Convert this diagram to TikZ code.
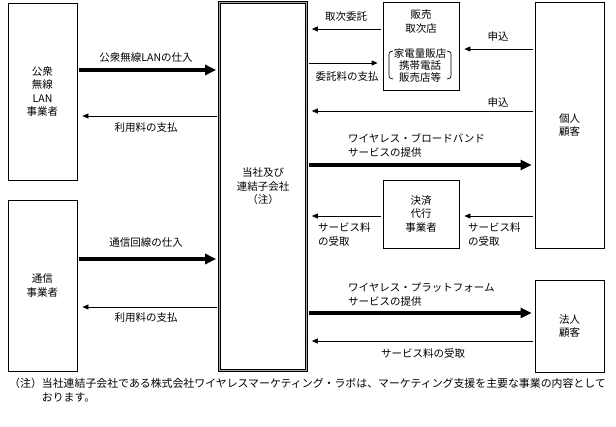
\documentclass[tikz,border=0pt]{standalone}
\usepackage{fontspec}
\newfontfamily\jpfont{Noto Sans CJK JP}
\usetikzlibrary{arrows.meta}
\tikzset{
  party/.style={draw, line width=0.8pt, inner sep=0pt, align=center,
    font=\jpfont\fontsize{10.5}{13.5}\selectfont},
  hqbox/.style={party, line width=0.7pt, double=gray!70, double distance=1.4pt},
  txt/.style={inner sep=0pt, align=left, font=\jpfont\fontsize{10.5}{14}\selectfont},
  heavy/.style={line width=3.5pt, -{Triangle[length=11pt,width=10pt]},
    shorten <=2pt, shorten >=3pt},
  light/.style={line width=0.8pt, -{Triangle[length=6pt,width=5pt]},
    shorten <=2pt, shorten >=5pt}
}
\begin{document}
\begin{tikzpicture}[x=1pt,y=-1pt]
\useasboundingbox (0,0) rectangle (616,427);

% Define coordinates
\coordinate (r1) at (0,70);
\coordinate (r2) at (0,116);
\coordinate (r3) at (0,259);
\coordinate (r4) at (0,307);
\coordinate (s1) at (0,29);
\coordinate (s2) at (0,49);
\coordinate (s3) at (0,63);
\coordinate (s4) at (0,111);
\coordinate (s5) at (0,165);
\coordinate (s6) at (0,216);
\coordinate (s7) at (0,313);
\coordinate (s8) at (0,341);

% Boxes
\node[party, minimum width=69pt, minimum height=177pt] (pub) at (42.5,91.5) {公衆\\無線\\LAN\\事業者};
\node[party, minimum width=69pt, minimum height=171pt] (tel) at (42.5,285.5) {通信\\事業者};
\node[hqbox, minimum width=87pt, minimum height=368pt] (hq) at (263,186.5) {当社及び\\連結子会社\\（注）};
\node[party, minimum width=76pt, minimum height=88pt] (agent) at (421,46) {};
\node[party, minimum width=69pt, minimum height=246pt] (indiv) at (569.5,125) {個人\\顧客};
\node[party, minimum width=76pt, minimum height=68pt] (settle) at (421,214) {決済\\代行\\事業者};
\node[party, minimum width=69pt, minimum height=92pt] (corp) at (569.5,326) {法人\\顧客};

% Text in the agent box
\node[txt, align=center, font=\jpfont\fontsize{10.5}{14.5}\selectfont] (agentname) at (421,21.5) {販売\\取次店};
\node[txt, align=center, font=\jpfont\fontsize{10.5}{12}\selectfont] (agentkind) at (420,66) {家電量販店\\携帯電話\\販売店等};
\draw[line width=0.7pt] (393,51) .. controls (389,52) .. (389,56) -- (389,73) .. controls (389,78) .. (393,79); % left bracket
\draw[line width=0.7pt] (447,51) .. controls (451,52) .. (451,56) -- (451,73) .. controls (451,78) .. (447,79); % right bracket

% Left side flows
\draw[heavy] (pub.east |- r1) -- (hq.west |- r1);
\draw[light] (hq.west |- r2) -- (pub.east |- r2);
\draw[heavy] (tel.east |- r3) -- (hq.west |- r3);
\draw[light] (hq.west |- r4) -- (tel.east |- r4);

% Right side flows
\draw[light] (agent.west |- s1) -- (hq.east |- s1); % commission
\draw[light] (hq.east |- s3) -- (agent.west |- s3); % fee paid
\draw[light] (indiv.west |- s2) -- (agent.east |- s2); % application
\draw[light] (indiv.west |- s4) -- (hq.east |- s4); % application
\draw[heavy] (hq.east |- s5) -- (indiv.west |- s5);
\draw[light] (settle.west |- s6) -- (hq.east |- s6);
\draw[light] (indiv.west |- s6) -- (settle.east |- s6);
\draw[heavy] (hq.east |- s7) -- (corp.west |- s7);
\draw[light] (corp.west |- s8) -- (hq.east |- s8);

% Add labels
\node[txt] (l1) at (146,58) {公衆無線LANの仕入};
\node[txt] (l2) at (146,128) {利用料の支払};
\node[txt] (l3) at (146,243) {通信回線の仕入};
\node[txt] (l4) at (146,318) {利用料の支払};
\node[txt] (l5) at (346,17) {取次委託};
\node[txt] (l6) at (347,77) {委託料の支払};
\node[txt] (l7) at (498,37) {申込};
\node[txt] (l8) at (498,103) {申込};
\node[txt, anchor=west] (l9) at (348,145.5) {ワイヤレス・ブロードバンド\\サービスの提供};
\node[txt, anchor=west] (l10) at (318,234.5) {サービス料\\の受取};
\node[txt, anchor=west] (l11) at (468,234.5) {サービス料\\の受取};
\node[txt, anchor=west] (l12) at (348,295) {ワイヤレス・プラットフォーム\\サービスの提供};
\node[txt] (l13) at (423,353) {サービス料の受取};

% Note
\node[txt, anchor=west, font=\jpfont\fontsize{10.9}{14}\selectfont] (note) at (9,390) {（注）当社連結子会社である株式会社ワイヤレスマーケティング・ラボは、マーケティング支援を主要な事業の内容として\\\hspace*{3em}おります。};

\end{tikzpicture}
\end{document}
